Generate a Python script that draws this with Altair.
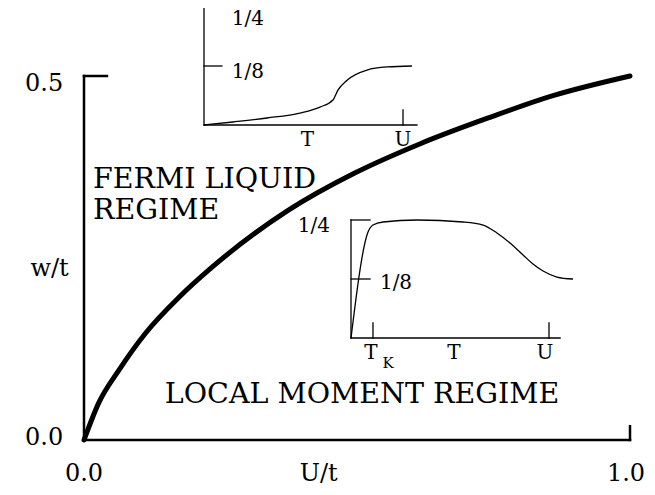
import altair as alt
import pandas as pd

FONT = "DejaVu Serif"

# ---------------- main curve (w/t vs U/t) ----------------
main_u = [0.0, 0.027, 0.064, 0.113, 0.174, 0.234, 0.373, 0.494, 0.616, 0.739, 0.859, 1.0]
main_w = [0.0, 0.051, 0.096, 0.147, 0.196, 0.237, 0.315, 0.366, 0.407, 0.442, 0.473, 0.5]

# main axis tick labels
main_y_ticks = [0.0, 0.5]
main_y_tick_labels = ["0.0", "0.5"]
main_y_label_pos = [0.003, 0.489]
main_x_ticks = [0.0, 1.0]
main_x_tick_labels = ["0.0", "1.0"]

# region labels
region_text = ["FERMI LIQUID", "REGIME", "LOCAL MOMENT REGIME"]
region_u = [0.0165, 0.0165, 0.148]
region_w = [0.346, 0.304, 0.051]

# ---------------- inset 1 (upper) ----------------
in1_t = [0.0, 0.146, 0.317, 0.482, 0.583, 0.648, 0.673, 0.719, 0.819, 0.92, 1.045]
in1_v = [0.0, 0.0064, 0.0148, 0.0254, 0.038, 0.053, 0.074, 0.095, 0.1165, 0.123, 0.125]
in1_y_ticks = [0.25, 0.125]
in1_y_tick_labels = ["1/4", "1/8"]
in1_x_ticks = [1.0]
in1_x_labels = ["T", "U"]
in1_x_label_pos = [0.52, 1.0]

# ---------------- inset 2 (lower) ----------------
in2_t = [0.0, 0.086, 0.111, 0.162, 0.333, 0.566, 0.667, 0.737, 0.803, 0.869, 0.919, 0.97, 1.04, 1.121]
in2_v = [0.0, 0.2246, 0.2394, 0.2458, 0.25, 0.2458, 0.2394, 0.2225, 0.2013, 0.1758, 0.1568, 0.1419, 0.1292, 0.125]
in2_y_ticks = [0.25, 0.125]
in2_y_tick_labels = ["1/4", "1/8"]
in2_x_ticks = [0.111, 1.0]
in2_x_labels = ["T", "T", "U"]
in2_x_label_pos = [0.10, 0.52, 0.98]
in2_sub_label = ["K"]
in2_sub_pos = [0.187]

W, H = 546, 364

# scales
mx = alt.Scale(domain=[0, 1], range=[0, W], nice=False, zero=False)
my = alt.Scale(domain=[0, 0.5], range=[H, 0], nice=False, zero=False)
i1x = alt.Scale(domain=[0, 1], range=[120, 319], nice=False, zero=False)
i1y = alt.Scale(domain=[0, 0.25], range=[49, -69], nice=False, zero=False)
i2x = alt.Scale(domain=[0, 1], range=[267, 465], nice=False, zero=False)
i2y = alt.Scale(domain=[0, 0.25], range=[262, 144], nice=False, zero=False)


def enc_xy(sx, sy, xf="x", yf="y"):
    return dict(
        x=alt.X(f"{xf}:Q", scale=sx, axis=None),
        y=alt.Y(f"{yf}:Q", scale=sy, axis=None),
    )


def rules(df, sx, sy, width):
    return alt.Chart(df).mark_rule(color="black", strokeWidth=width, strokeCap="square").encode(
        x=alt.X("x:Q", scale=sx, axis=None),
        x2="x2:Q",
        y=alt.Y("y:Q", scale=sy, axis=None),
        y2="y2:Q",
    )


def texts(df, sx, sy, size, align="center", baseline="middle", dx=0, dy=0):
    return alt.Chart(df).mark_text(
        font=FONT, fontSize=size, color="black", align=align, baseline=baseline, dx=dx, dy=dy
    ).encode(
        x=alt.X("x:Q", scale=sx, axis=None),
        y=alt.Y("y:Q", scale=sy, axis=None),
        text="t:N",
    )


# ---------------- main layer ----------------
main_df = pd.DataFrame({"x": main_u, "y": main_w})
main_line = alt.Chart(main_df).mark_line(
    color="black", strokeWidth=5, strokeCap="round", interpolate="monotone"
).encode(**enc_xy(mx, my))
main_axes = rules(
    pd.DataFrame({
        "x": [0, 0, 0, 1],
        "x2": [0, 1, 0.042, 1],
        "y": [0, 0, 0.5, 0],
        "y2": [0.5, 0, 0.5, 0.019],
    }),
    mx, my, 2.5,
)
main_ylab = texts(pd.DataFrame({"x": [-0.038] * 2, "y": main_y_label_pos, "t": main_y_tick_labels}),
                  mx, my, 24, align="right")
main_xlab = alt.layer(
    texts(pd.DataFrame({"x": [main_x_ticks[0]], "y": [-0.047], "t": [main_x_tick_labels[0]]}),
          mx, my, 24),
    texts(pd.DataFrame({"x": [main_x_ticks[1]], "y": [-0.047], "t": [main_x_tick_labels[1]]}),
          mx, my, 24, dx=-4),
)
main_titles = texts(pd.DataFrame({"x": [-0.063, 0.43], "y": [0.235, -0.047], "t": ["w/t", "U/t"]}),
                    mx, my, 24)
main_regions = texts(pd.DataFrame({"x": region_u, "y": region_w, "t": region_text}),
                     mx, my, 28.5, align="left", baseline="alphabetic")
main_layer = alt.layer(main_axes, main_line, main_ylab, main_xlab, main_titles, main_regions)

# ---------------- inset 1 ----------------
in1_df = pd.DataFrame({"x": in1_t, "y": in1_v})
in1_line = alt.Chart(in1_df).mark_line(
    color="black", strokeWidth=1.3, interpolate="monotone"
).encode(**enc_xy(i1x, i1y))
in1_axes = rules(
    pd.DataFrame({
        "x": [0, 0, 0, 0, in1_x_ticks[0]],
        "x2": [0, 1.07, 0.09, 0.09, in1_x_ticks[0]],
        "y": [0, 0, in1_y_ticks[0], in1_y_ticks[1], 0],
        "y2": [0.25, 0, in1_y_ticks[0], in1_y_ticks[1], 0.032],
    }),
    i1x, i1y, 1.3,
)
in1_ylab = alt.layer(
    texts(pd.DataFrame({"x": [0.14], "y": [in1_y_ticks[0]], "t": [in1_y_tick_labels[0]]}),
          i1x, i1y, 20, align="left", dy=12),
    texts(pd.DataFrame({"x": [0.14], "y": [in1_y_ticks[1]], "t": [in1_y_tick_labels[1]]}),
          i1x, i1y, 20, align="left", dy=6),
)
in1_xlab = texts(pd.DataFrame({"x": in1_x_label_pos, "y": [-0.032] * 2, "t": in1_x_labels}),
                 i1x, i1y, 20)
in1_layer = alt.layer(in1_axes, in1_line, in1_ylab, in1_xlab)

# ---------------- inset 2 ----------------
in2_df = pd.DataFrame({"x": in2_t, "y": in2_v})
in2_line = alt.Chart(in2_df).mark_line(
    color="black", strokeWidth=1.3, interpolate="monotone"
).encode(**enc_xy(i2x, i2y))
in2_axes = rules(
    pd.DataFrame({
        "x": [0, 0, 0, 0, in2_x_ticks[0], in2_x_ticks[1]],
        "x2": [0, 1.056, 0.096, 0.096, in2_x_ticks[0], in2_x_ticks[1]],
        "y": [0, 0, in2_y_ticks[0], in2_y_ticks[1], 0, 0],
        "y2": [0.25, 0, in2_y_ticks[0], in2_y_ticks[1], 0.032, 0.032],
    }),
    i2x, i2y, 1.3,
)
in2_ylab = alt.layer(
    texts(pd.DataFrame({"x": [-0.106], "y": [0.237], "t": [in2_y_tick_labels[0]]}),
          i2x, i2y, 20, align="right"),
    texts(pd.DataFrame({"x": [0.146], "y": [in2_y_ticks[1]], "t": [in2_y_tick_labels[1]]}),
          i2x, i2y, 20, align="left", dy=4),
)
in2_xlab = texts(pd.DataFrame({"x": in2_x_label_pos, "y": [-0.032] * 3, "t": in2_x_labels}),
                 i2x, i2y, 20)
in2_sub = texts(pd.DataFrame({"x": in2_sub_pos, "y": [-0.054], "t": in2_sub_label}),
                i2x, i2y, 15)
in2_layer = alt.layer(in2_axes, in2_line, in2_ylab, in2_xlab, in2_sub)

chart = (
    alt.layer(main_layer, in1_layer, in2_layer)
    .resolve_scale(x="independent", y="independent")
    .properties(
        width=W,
        height=H,
        autosize=alt.AutoSizeParams(type="none"),
        padding={"left": 76, "top": 68, "right": 17, "bottom": 47},
        background="white",
    )
    .configure_view(stroke=None)
)

chart.save("out.html", embed_options={"renderer": "svg", "actions": False})
